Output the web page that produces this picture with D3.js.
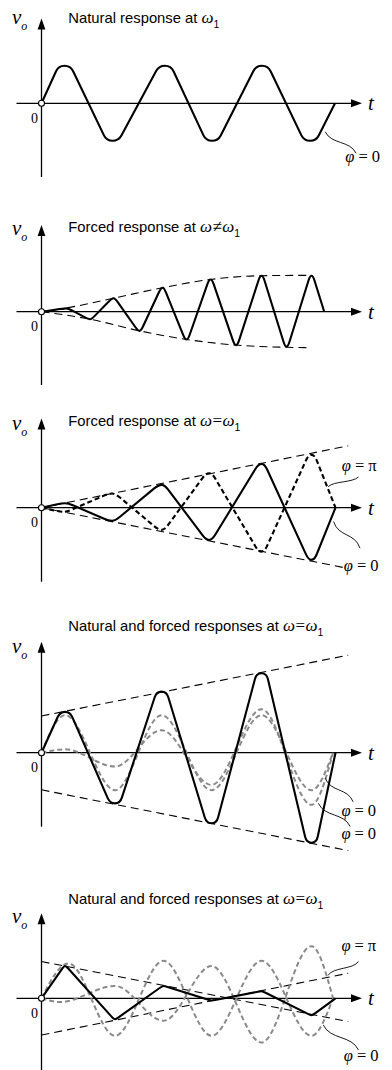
<!DOCTYPE html>
<html>
<head>
<meta charset="utf-8">
<script src="https://cdn.jsdelivr.net/npm/d3@7"></script>
<style>
  html, body { margin: 0; padding: 0; background: #fff; }
  svg { display: block; }
  text { fill: #000; }
</style>
</head>
<body>
<svg id="chart" width="392" height="1070"></svg>
<script>
// ---- waveform data: [t, v] corner / extreme points (t in half-periods of ω1, v in natural amplitude units)
const natural1 = [[0,0],[0.47,1],[1.45,-1],[2.52,1],[3.48,-1],[4.5,1],[5.48,-1],[5.99,0]];

const forcedOff2 = [[0,0],[0.51,0.09],[0.99,-0.2],[1.47,0.36],[2.0,-0.51],[2.47,0.64],[2.96,-0.74],
                    [3.45,0.86],[3.97,-0.89],[4.49,0.96],[5.0,-0.93],[5.51,0.96],[5.77,0]];
const envUpper2 = [[0,0],[0.51,0.1],[1.47,0.36],[2.47,0.64],[3.45,0.86],[4.49,0.96],[5.49,0.97]];
const envLower2 = [[0,0],[0.99,-0.2],[2.0,-0.51],[2.96,-0.74],[3.97,-0.89],[5.0,-0.95],[5.48,-0.96]];

const forcedPhi0_3  = [[0,0],[0.48,0.12],[1.44,-0.35],[2.45,0.61],[3.42,-0.86],[4.49,1.17],[5.51,-1.39],[6,0]];
const forcedPhiPi_3 = [[0,0],[0.45,-0.11],[1.44,0.38],[2.45,-0.59],[3.42,0.92],[4.49,-1.17],[5.51,1.41],[6,0]];
const envUpper3 = [[0,0],[6.26,1.65]];
const envLower3 = [[0,0],[6.26,-1.62]];

const total4   = [[0,0],[0.48,1.09],[1.5,-1.35],[2.45,1.63],[3.47,-1.88],[4.49,2.12],[5.51,-2.4],[6,0]];
const natural4 = [[0,0],[0.48,1],[1.5,-1],[2.45,1],[3.47,-1],[4.49,1],[5.51,-1],[5.95,0]];
const forced4  = [[0,0],[0.48,0.09],[1.5,-0.37],[2.45,0.6],[3.47,-0.86],[4.49,1.16],[5.51,-1.39],[5.95,0]];
const envUpper4 = [[0,0.98],[6.26,2.6]];
const envLower4 = [[0,-0.99],[6.26,-2.61]];

const total5   = [[0,0],[0.48,0.86],[1.5,-0.56],[2.49,0.33],[3.47,-0.06],[4.49,0.19],[5.51,-0.45],[6,0]];
const natural5 = [[0,0],[0.55,0.93],[1.5,-1],[2.49,1],[3.47,-1],[4.49,1],[5.51,-1],[5.95,0]];
const forced5  = [[0,0],[0.38,-0.1],[1.5,0.33],[2.49,-0.6],[3.47,0.86],[4.49,-1.18],[5.51,1.39],[5.95,0]];
const envA5 = [[0,0.98],[6.26,-0.62]];
const envB5 = [[0,-0.98],[6.26,0.67]];

// ---- text
const titleLead = ["Natural response at ", "Forced response at ", "Forced response at ",
                   "Natural and forced responses at ", "Natural and forced responses at "];
const titleRelation = ["", "\u2260", "=", "=", "="];

// phase labels: [panel, t, v(baseline), value]
const phaseLabels = [[0,6.2,-1.57,"0"],[2,6.13,0.99,"\u03c0"],[2,6.17,-1.69,"0"],
                     [3,6.12,-1.69,"0"],[3,6.12,-2.3,"0"],[4,6.12,1.26,"\u03c0"],[4,6.17,-1.66,"0"]];
// leader lines: [panel, [t0,v0], [t1,v1]]
const leaders = [[0,[5.79,-0.76],[6.42,-1.33]],
                 [2,[5.85,0.56],[6.47,0.82]],[2,[5.96,-0.37],[6.5,-1.08]],
                 [3,[5.79,-0.68],[6.36,-1.31]],[3,[5.65,-1.35],[6.3,-1.97]],
                 [4,[5.85,0.62],[6.47,0.98]],[4,[5.75,-0.71],[6.47,-1.38]]];

// ---- layout
const layout = [
  {oy:103.3, top:18.5,  bottom:177,   titleY:22.7,  vY:24},
  {oy:311.7, top:225,   bottom:385,   titleY:231.5, vY:235},
  {oy:507.7, top:418.5, bottom:581.7, titleY:426,   vY:430},
  {oy:752.7, top:641.7, bottom:826.7, titleY:631,   vY:653},
  {oy:998.3, top:913.3, bottom:1071,  titleY:904.3, vY:922.7}
];
const AMP = 37.5;
const SANS = "'Liberation Sans', Arial, Helvetica, sans-serif";
const SERIF = "'Liberation Serif', 'Times New Roman', Times, serif";
const GRAY = "#8a8a8a";

const svg = d3.select("#chart");
const x = d3.scaleLinear().domain([0, 6]).range([41.5, 335.5]);
const yScales = layout.map(L => d3.scaleLinear().domain([-1, 1]).range([L.oy + AMP, L.oy - AMP]));

// straight segments between corners, with each interior extreme widened to a short plateau
// and every corner rounded off with a quadratic curve
function roundedWave(data, ys, flat, r) {
  const pts = data.map(d => [x(d[0]), ys(d[1])]);
  const c = [];
  pts.forEach((p, i) => {
    if (i === 0 || i === pts.length - 1 || flat === 0) c.push(p);
    else { c.push([p[0] - flat, p[1]]); c.push([p[0] + flat, p[1]]); }
  });
  const p = d3.path();
  p.moveTo(c[0][0], c[0][1]);
  for (let i = 1; i < c.length - 1; i++) {
    const [x0, y0] = c[i - 1], [x1, y1] = c[i], [x2, y2] = c[i + 1];
    const d1 = Math.hypot(x1 - x0, y1 - y0), d2 = Math.hypot(x2 - x1, y2 - y1);
    const r1 = Math.min(r, d1 / 2), r2 = Math.min(r, d2 / 2);
    p.lineTo(x1 - (x1 - x0) / d1 * r1, y1 - (y1 - y0) / d1 * r1);
    p.quadraticCurveTo(x1, y1, x1 + (x2 - x1) / d2 * r2, y1 + (y2 - y1) / d2 * r2);
  }
  p.lineTo(c[c.length - 1][0], c[c.length - 1][1]);
  return p.toString();
}

function smoothLine(ys, curve) {
  return d3.line().x(d => x(d[0])).y(d => ys(d[1])).curve(curve || d3.curveMonotoneX);
}

const g = svg.append("g");

// ---- axes
layout.forEach((L, i) => {
  const a = g.append("g").attr("class", "axes");
  a.append("line").attr("x1", 16.5).attr("x2", 353).attr("y1", L.oy).attr("y2", L.oy)
    .attr("stroke", "#000").attr("stroke-width", 1.3);
  a.append("path").attr("d", `M362,${L.oy}L351,${L.oy - 4}L351,${L.oy + 4}Z`).attr("fill", "#000");
  a.append("line").attr("x1", 41.5).attr("x2", 41.5).attr("y1", L.bottom).attr("y2", L.top + 9)
    .attr("stroke", "#000").attr("stroke-width", 1.3);
  a.append("path").attr("d", `M41.5,${L.top}L37.6,${L.top + 11}L45.4,${L.top + 11}Z`).attr("fill", "#000");
});

// ---- envelopes (thin dashed)
function envelope(i, data, curve) {
  g.append("path").datum(data).attr("d", smoothLine(yScales[i], curve))
    .attr("fill", "none").attr("stroke", "#000").attr("stroke-width", 1.1)
    .attr("stroke-dasharray", "8,5");
}
envelope(1, envUpper2); envelope(1, envLower2);
envelope(2, envUpper3, d3.curveLinear); envelope(2, envLower3, d3.curveLinear);
envelope(3, envUpper4, d3.curveLinear); envelope(3, envLower4, d3.curveLinear);
envelope(4, envA5, d3.curveLinear); envelope(4, envB5, d3.curveLinear);

// ---- gray dashed component responses
function grayCurve(i, data) {
  g.append("path").datum(data).attr("d", smoothLine(yScales[i]))
    .attr("fill", "none").attr("stroke", GRAY).attr("stroke-width", 2)
    .attr("stroke-dasharray", "5,3");
}
grayCurve(3, natural4); grayCurve(3, forced4);
grayCurve(4, natural5); grayCurve(4, forced5);

// ---- main waveforms
function solid(i, data, flat, r, dash) {
  g.append("path").attr("d", roundedWave(data, yScales[i], flat, r))
    .attr("fill", "none").attr("stroke", "#000").attr("stroke-width", 2.1)
    .attr("stroke-linejoin", "round")
    .attr("stroke-dasharray", dash || null);
}
solid(0, natural1, 6, 6);
solid(1, forcedOff2, 1.5, 5);
solid(2, forcedPhiPi_3, 3, 6, "5,3");
solid(2, forcedPhi0_3, 3, 6);
solid(3, total4, 5, 6);
solid(4, total5, 1, 4);

// ---- origin markers and axis labels
layout.forEach((L, i) => {
  g.append("circle").attr("cx", 41.5).attr("cy", L.oy).attr("r", 3)
    .attr("fill", "#fff").attr("stroke", "#000").attr("stroke-width", 1.1);
  g.append("text").attr("x", 38).attr("y", L.oy + 19.5).attr("text-anchor", "end")
    .attr("font-family", SERIF).attr("font-size", 14).text("0");
  g.append("text").attr("x", 368).attr("y", L.oy + 7)
    .attr("font-family", SERIF).attr("font-size", 21).attr("font-style", "italic").text("t");
  const v = g.append("text").attr("x", 12).attr("y", L.vY)
    .attr("font-family", SERIF).attr("font-style", "italic");
  v.append("tspan").attr("font-size", 21).text("v");
  v.append("tspan").attr("font-size", 12).attr("dy", 6).text("o");

  // title
  const t = g.append("text").attr("x", 68.3).attr("y", L.titleY);
  t.append("tspan").attr("font-family", SANS).attr("font-size", 14.8).text(titleLead[i]);
  t.append("tspan").attr("font-family", SERIF).attr("font-style", "italic").attr("font-size", 17).text("\u03c9");
  if (titleRelation[i]) {
    t.append("tspan").attr("font-family", SERIF).attr("font-size", 17).attr("dx", 0.5).text(titleRelation[i]);
    t.append("tspan").attr("font-family", SERIF).attr("font-style", "italic").attr("font-size", 17).attr("dx", 0.5).text("\u03c9");
  }
  t.append("tspan").attr("font-family", SANS).attr("font-size", 10.5).attr("dy", 5).text("1");
});

// ---- leader lines for phase labels
leaders.forEach(([i, a, b]) => {
  const ys = yScales[i];
  const x0 = x(a[0]), y0 = ys(a[1]), x1 = x(b[0]), y1 = ys(b[1]);
  const dx = x1 - x0, dy = y1 - y0;
  const p = d3.path();
  p.moveTo(x0, y0);
  p.bezierCurveTo(x0 + 0.2 * dx, y0 + 0.6 * dy, x0 + 0.8 * dx, y0 + 0.4 * dy, x1, y1);
  g.append("path").attr("d", p.toString()).attr("fill", "none")
    .attr("stroke", "#000").attr("stroke-width", 0.9);
});

phaseLabels.forEach(([i, tt, vv, val]) => {
  const txt = g.append("text").attr("x", x(tt)).attr("y", yScales[i](vv))
    .attr("font-family", SERIF).attr("font-size", 16.5);
  txt.append("tspan").attr("font-style", "italic").text("\u03c6");
  txt.append("tspan").attr("dx", 4).text("=");
  txt.append("tspan").attr("dx", 4).text(val);
});
</script>
</body>
</html>
